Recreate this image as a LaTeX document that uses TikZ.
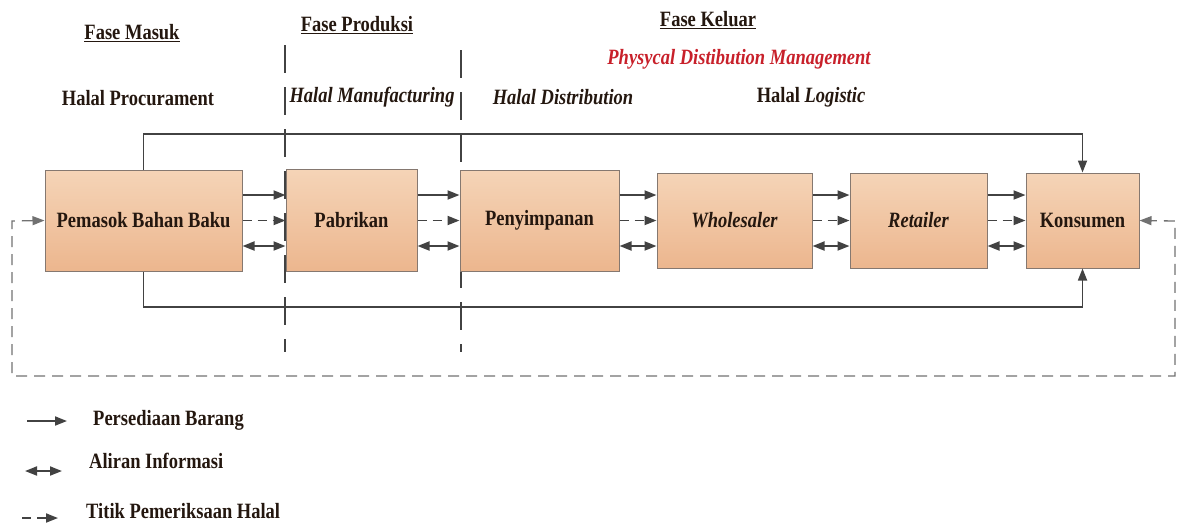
\documentclass[tikz,border=0pt]{standalone}
\usepackage{graphicx}
\usepackage{fontspec}
\setmainfont{Liberation Serif}
\usetikzlibrary{arrows.meta}

\definecolor{ink}{HTML}{24170F}
\definecolor{wire}{HTML}{424242}
\definecolor{boxline}{HTML}{857870}
\definecolor{peachtop}{HTML}{F5D4B7}
\definecolor{peachbot}{HTML}{ECB68E}
\definecolor{pdmred}{HTML}{C8202A}

% bold serif lettering, drawn a little taller than wide
\newcommand{\tall}[1]{\scalebox{1}[1.18]{#1}}

\begin{document}
\begin{tikzpicture}[x=1pt,y=-1pt,
  txt/.style={font=\fontsize{18.5}{21}\selectfont\bfseries, text=ink, inner sep=0},
  stage/.style={draw=boxline, line width=1pt, top color=peachtop, bottom color=peachbot,
    inner sep=0, font=\fontsize{18.5}{21}\selectfont\bfseries, text=ink},
  tip/.style={-{Triangle[length=12pt,width=9pt]}},
  bitip/.style={{Triangle[length=12pt,width=9pt]}-{Triangle[length=12pt,width=9pt]}},
  flow/.style={draw=wire, line width=1.8pt, tip},
  check/.style={draw=wire, line width=1.8pt, tip, dash pattern=on 9pt off 6pt},
  info/.style={draw=wire, line width=1.8pt, bitip},
  loopline/.style={draw=wire!75, line width=1.3pt, bitip, dash pattern=on 11pt off 7pt},
  divider/.style={draw=wire, line width=1.1pt, dash pattern=on 28pt off 14pt},
]
\useasboundingbox (0,0) rectangle (1177,525);

% phase dividers
\coordinate (d1a) at (285,45);  \coordinate (d1b) at (285,352);
\coordinate (d2a) at (461,50);  \coordinate (d2b) at (461,352);
\draw[divider] (d1a) -- (d1b);
\draw[divider] (d2a) -- (d2b);

% headings
\node[txt] (fm) at (132,33) {\tall{\underline{Fase Masuk}}};
\node[txt] (fp) at (357,25) {\tall{\underline{Fase Produksi}}};
\node[txt] (fk) at (708,20) {\tall{\underline{Fase Keluar}}};
\node[txt, text=pdmred] (pdm) at (739,59) {\tall{\itshape Physycal Distibution Management}};
\node[txt] (hp) at (138,98) {\tall{Halal Procurament}};
\node[txt] (hm) at (372,97) {\tall{\itshape Halal Manufacturing}};
\node[txt] (hd) at (563,97) {\tall{\itshape Halal Distribution}};
\node[txt] (hl) at (811,97) {\tall{Halal \textit{Logistic}}};

% chain of stages
\node[stage, minimum width=197pt, minimum height=101pt] (pem) at (143.5,220.5) {\tall{Pemasok Bahan Baku}};
\node[stage, minimum width=131pt, minimum height=102pt] (pab) at (351.5,220.5) {\tall{Pabrikan}};
\node[stage, minimum width=159pt, minimum height=101pt] (pen) at (539.5,220.5) {\tall{Penyimpanan}};
\node[stage, minimum width=155pt, minimum height=95pt] (who) at (734.5,220.5) {\tall{\itshape Wholesaler}};
\node[stage, minimum width=137pt, minimum height=95pt] (ret) at (918.5,220.5) {\tall{\itshape Retailer}};
\node[stage, minimum width=113pt, minimum height=95pt] (kon) at (1082.5,220.5) {\tall{Konsumen}};

% goods, halal check and information between neighbours
\foreach \a/\b in {pem/pab, pab/pen, pen/who, who/ret, ret/kon}{
  \draw[flow]  ([yshift=25.5pt]\a.east) -- ([yshift=25.5pt]\b.west);
  \draw[check] (\a.east) -- (\b.west);
  \draw[info]  ([yshift=-25.5pt]\a.east) -- ([yshift=-25.5pt]\b.west);
}

% direct routes from supplier to consumer
\coordinate (topY) at (0,134);
\coordinate (botY) at (0,307);
\draw[flow] (pem.north) -- (pem.north |- topY) -| (kon.north);
\draw[flow] (pem.south) -- (pem.south |- botY) -| (kon.south);

% halal check loop around the chain
\coordinate (lA) at (12,221);
\coordinate (lB) at (12,376);
\coordinate (lC) at (1175,376);
\coordinate (lD) at (1175,221);
\draw[loopline] (pem.west) -- (lA) -- (lB) -- (lC) -- (lD) -- (kon.east);

% legend
\coordinate (g1a) at (27,421); \coordinate (g1b) at (67,421);
\coordinate (g2a) at (25,471); \coordinate (g2b) at (62,471);
\coordinate (g3a) at (22,518); \coordinate (g3b) at (58,518);
\draw[flow] (g1a) -- (g1b);
\draw[info] (g2a) -- (g2b);
\draw[check] (g3a) -- (g3b);
\node[txt, anchor=west] (l1) at (93,420) {\tall{Persediaan Barang}};
\node[txt, anchor=west] (l2) at (89,461) {\tall{Aliran Informasi}};
\node[txt, anchor=west] (l3) at (86,511) {\tall{Titik Pemeriksaan Halal}};
\end{tikzpicture}
\end{document}
